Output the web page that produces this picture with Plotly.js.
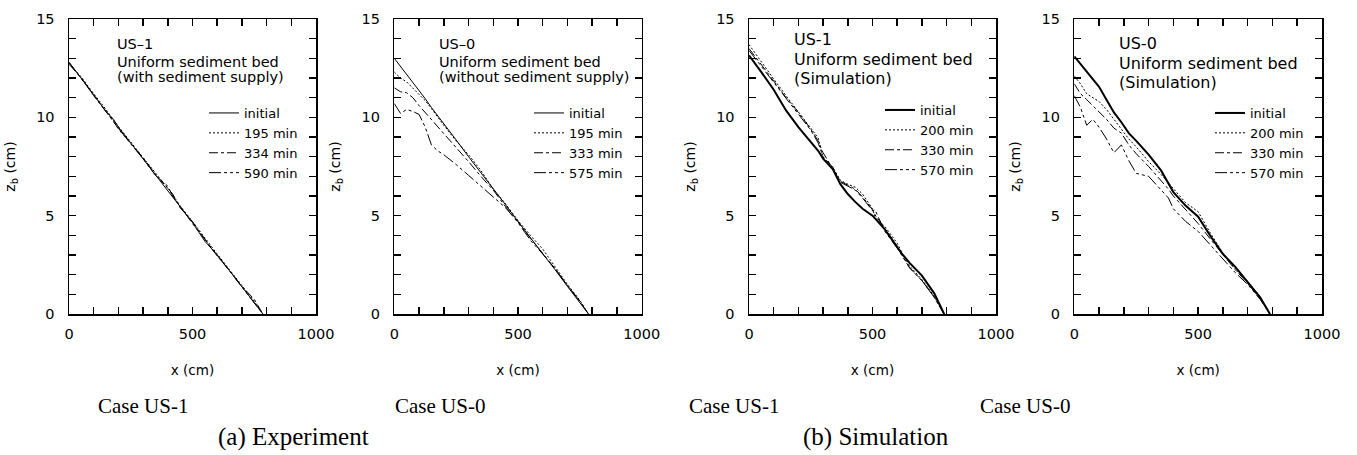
<!DOCTYPE html>
<html><head><meta charset="utf-8">
<script src="https://cdn.plot.ly/plotly-3.0.1.min.js"></script>
<style>html,body{margin:0;padding:0;background:#fff}#chart{width:1357px;height:455px}</style>
</head><body><div id="chart"></div>
<script>
// ---------- tick labels ----------
const xTickVals = [0,100,200,300,400,500,600,700,800,900,1000];
const xTickText = ['0','','','','','500','','','','','1000'];
const yTickVals = [0,1,2,3,4,5,6,7,8,9,10,11,12,13,14,15];
const yTickText = ['0','','','','','5','','','','','10','','','','','15'];

// ---------- (a) Experiment, Case US-1 ----------
const expUS1_x       = [0,50,100,150,180,200,250,300,350,400,420,450,500,550,600,650,700,750,785];
const expUS1_initial = [12.8,12.0,11.15,10.3,9.9,9.5,8.7,7.9,7.1,6.3,5.95,5.45,4.65,3.7,3.0,2.2,1.4,0.6,0];
const expUS1_195     = [12.75,12.05,11.2,10.4,9.85,9.55,8.75,7.95,7.2,6.4,6.05,5.5,4.7,3.85,3.05,2.25,1.45,0.65,0];
const expUS1_334     = [12.7,12.0,11.1,10.3,9.8,9.4,8.65,7.95,7.1,6.35,6.1,5.4,4.7,3.8,2.95,2.2,1.4,0.75,0];
const expUS1_590     = [12.8,11.95,11.15,10.3,9.75,9.45,8.65,7.9,7.05,6.5,6.0,5.45,4.6,3.8,3.0,2.15,1.35,0.6,0];
const expUS1_names   = ['initial','195 min','334 min','590 min'];

// ---------- (a) Experiment, Case US-0 ----------
const expUS0_x       = [0,25,50,75,100,125,150,175,200,250,300,350,400,450,500,550,600,650,700,750,785];
const expUS0_initial = [13.0,12.6,12.2,11.75,11.35,10.95,10.5,10.1,9.7,8.85,8.0,7.2,6.4,5.55,4.7,3.9,3.05,2.25,1.4,0.6,0];
const expUS0_195     = [12.3,12.0,11.8,11.5,11.2,10.85,10.45,10.0,9.6,8.8,8.1,7.3,6.35,5.6,4.75,4.0,3.3,2.4,1.5,0.7,0];
const expUS0_333     = [11.5,11.3,11.25,11.0,10.6,10.25,9.9,9.55,9.2,8.5,7.75,7.0,6.3,5.45,4.7,3.85,3.1,2.3,1.45,0.65,0];
const expUS0_575     = [10.7,10.2,10.4,10.3,10.15,9.5,8.6,8.3,8.1,7.6,7.05,6.5,5.95,5.4,4.65,3.75,3.05,2.3,1.45,0.65,0];
const expUS0_names   = ['initial','195 min','333 min','575 min'];

// ---------- (b) Simulation, Case US-1 ----------
const simUS1_x       = [0,25,50,100,150,200,250,280,300,340,370,400,430,460,500,510,550,600,620,650,700,750,790];
const simUS1_initial = [13.15,12.75,12.3,11.4,10.35,9.5,8.75,8.3,7.9,7.35,6.6,6.1,5.7,5.35,5.0,4.85,4.3,3.4,3.05,2.6,1.95,1.05,0];
const simUS1_200     = [13.7,13.25,12.8,11.95,11.1,10.3,9.45,8.95,7.95,7.45,6.8,6.6,6.45,6.1,5.35,4.95,4.45,3.6,3.1,2.45,1.75,0.9,0];
const simUS1_330     = [13.5,13.1,12.7,11.85,11.0,10.25,9.4,8.8,8.2,7.4,6.75,6.55,6.35,5.95,5.3,5.05,4.35,3.45,3.0,2.35,1.7,0.85,0];
const simUS1_570     = [13.4,13.0,12.6,11.8,10.95,10.2,9.35,8.7,8.0,7.45,6.7,6.5,6.3,5.9,5.25,5.3,4.2,3.35,2.95,2.35,1.7,0.85,0];
const simUS1_names   = ['initial','200 min','330 min','570 min'];

// ---------- (b) Simulation, Case US-0 ----------
const simUS0_x       = [0,25,50,75,100,130,160,190,220,250,300,350,380,400,450,500,550,600,650,700,750,790];
const simUS0_initial = [13.1,12.7,12.3,11.9,11.55,10.9,10.25,9.75,9.2,8.8,8.1,7.3,6.6,6.2,5.5,4.95,3.95,3.05,2.4,1.6,0.85,0];
const simUS0_200     = [12.1,11.7,11.2,11.0,10.8,10.4,9.9,9.4,8.9,8.5,7.75,7.1,6.65,6.4,5.65,5.2,4.1,3.1,2.3,1.65,0.9,0];
const simUS0_330     = [11.7,11.2,10.9,10.6,10.3,9.9,9.45,9.2,8.6,8.15,7.5,6.8,6.35,6.0,5.3,4.6,3.8,3.0,2.25,1.55,0.8,0];
const simUS0_570     = [11.1,10.5,9.6,9.9,9.5,8.9,8.2,8.6,7.8,7.15,7.0,6.3,5.9,5.35,4.7,4.2,3.5,2.8,2.1,1.5,0.75,0];
const simUS0_names   = ['initial','200 min','330 min','570 min'];

// ---------- panel texts ----------
const panelCase  = ['US\u20131','US\u20130','US-1','US-0'];
const panelLine2 = ['Uniform sediment bed','Uniform sediment bed','Uniform sediment bed','Uniform sediment bed'];
const panelLine3 = ['(with sediment supply)','(without sediment supply)','(Simulation)','(Simulation)'];
const captionCase = ['Case US-1','Case US-0','Case US-1','Case US-0'];
const captionGroup = ['(a) Experiment','(b) Simulation'];

// ---------- layout helpers (pixel -> paper) ----------
const W = 1357, H = 455;
const px = v => v / W;
const py = v => 1 - v / H;
const SANS = 'DejaVu Sans';
const SERIF = 'Liberation Serif';

const panels = [
  {x:expUS1_x, ys:[expUS1_initial,expUS1_195,expUS1_334,expUS1_590], names:expUS1_names,
   dom:[69,316], initW:1, leg:[204,98], legFont:13, txt:[115,44,62,77], txtFont:14.5},
  {x:expUS0_x, ys:[expUS0_initial,expUS0_195,expUS0_333,expUS0_575], names:expUS0_names,
   dom:[394.3,641.7], initW:1, leg:[529,98], legFont:13, txt:[437,44,62,77], txtFont:14.5},
  {x:simUS1_x, ys:[simUS1_initial,simUS1_200,simUS1_330,simUS1_570], names:simUS1_names,
   dom:[749,996], initW:2, leg:[880,95], legFont:13, txt:[792,39,60,78], txtFont:16},
  {x:simUS0_x, ys:[simUS0_initial,simUS0_200,simUS0_330,simUS0_570], names:simUS0_names,
   dom:[1074.3,1322], initW:2, leg:[1210,98], legFont:13, txt:[1117,44,64,82], txtFont:16}
];
const dashes = ['solid','2px,2px','9px,3px,3px,3px','12px,3px,3px,3px,3px,3px'];

const traces = [];
const layout = {
  width: W, height: H,
  margin: {l:0, r:0, t:0, b:0},
  paper_bgcolor: '#fff', plot_bgcolor: '#fff',
  showlegend: true,
  font: {family: SANS, color: '#000'},
  annotations: [],
};

panels.forEach((p, i) => {
  const k = i === 0 ? '' : String(i + 1);
  const legKey = 'legend' + k;
  p.ys.forEach((y, j) => {
    traces.push({
      type: 'scatter', mode: 'lines',
      x: p.x, y: y, name: p.names[j],
      xaxis: 'x' + k, yaxis: 'y' + k, legend: legKey,
      line: {color: '#000', width: j === 0 ? p.initW : 1, dash: dashes[j]},
      hoverinfo: 'skip'
    });
  });
  const axCommon = {
    ticks: 'inside', ticklen: 7, tickwidth: 1.5, tickcolor: '#000',
    showline: true, linecolor: '#000', linewidth: 1.5, mirror: 'ticks',
    showgrid: false, zeroline: false, fixedrange: true,
    tickfont: {family: SANS, size: 14.5, color: '#000'}
  };
  layout['xaxis' + k] = Object.assign({}, axCommon, {
    domain: [px(p.dom[0]), px(p.dom[1])], anchor: 'y' + k,
    range: [0, 1000], tickmode: 'array', tickvals: xTickVals, ticktext: xTickText,
    ticklabelstandoff: 6,
    title: {text: 'x (cm)', font: {family: SANS, size: 13.5, color: '#000'}, standoff: 24}
  });
  layout['yaxis' + k] = Object.assign({}, axCommon, {
    domain: [py(314), py(19)], anchor: 'x' + k,
    range: [0, 15], tickmode: 'array', tickvals: yTickVals, ticktext: yTickText,
    ticklabelstandoff: 10,
    title: {text: 'z<sub>b</sub> (cm)', font: {family: SANS, size: 14, color: '#000'}, standoff: 17}
  });
  layout[legKey] = {
    x: px(p.leg[0]), y: py(p.leg[1]), xanchor: 'left', yanchor: 'top',
    xref: 'paper', yref: 'paper',
    bgcolor: 'rgba(0,0,0,0)', borderwidth: 0,
    font: {family: SANS, size: p.legFont, color: '#000'},
    tracegroupgap: 0, itemclick: false, itemdoubleclick: false
  };
  const t = p.txt;
  [[panelCase[i], t[1]], [panelLine2[i], t[2]], [panelLine3[i], t[3]]].forEach(([txt, yy]) => {
    layout.annotations.push({
      text: txt, xref: 'paper', yref: 'paper', x: px(t[0]), y: py(yy),
      xanchor: 'left', yanchor: 'middle', showarrow: false,
      font: {family: SANS, size: p.txtFont, color: '#000'}
    });
  });
});

// captions
const caseX = [143, 440, 734, 1025];
captionCase.forEach((c, i) => layout.annotations.push({
  text: c, xref: 'paper', yref: 'paper', x: px(caseX[i]), y: py(406),
  xanchor: 'center', yanchor: 'middle', showarrow: false,
  font: {family: SERIF, size: 21, color: '#000'}
}));
const groupX = [293, 876];
captionGroup.forEach((c, i) => layout.annotations.push({
  text: c, xref: 'paper', yref: 'paper', x: px(groupX[i]), y: py(437),
  xanchor: 'center', yanchor: 'middle', showarrow: false,
  font: {family: SERIF, size: 25, color: '#000'}
}));

Plotly.newPlot('chart', traces, layout, {staticPlot: true, displayModeBar: false}).then(gd => {
  const n = document.querySelectorAll('path.xtick, path.ytick').length;
  if (n === 0) return Plotly.react(gd, traces, layout, {staticPlot: true, displayModeBar: false});
});
</script>
</body></html>
